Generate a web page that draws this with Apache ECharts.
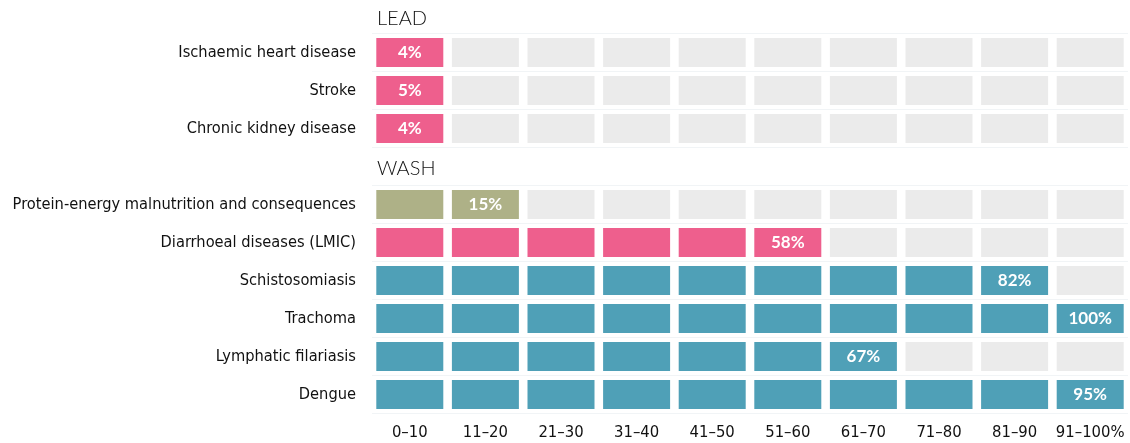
<!DOCTYPE html>
<html>
<head>
<meta charset="utf-8">
<script src="https://cdn.jsdelivr.net/npm/echarts@6/dist/echarts.min.js"></script>
<style>
  html, body { margin: 0; padding: 0; background: #fff; }
  #chart { width: 1130px; height: 443px; }
</style>
</head>
<body>
<div id="chart"></div>
<script>
  // column bands along the bottom
  var bands = ['0\u201310', '11\u201320', '21\u201330', '31\u201340', '41\u201350',
    '51\u201360', '61\u201370', '71\u201380', '81\u201390', '91\u2013100%'];

  // rows top to bottom, '' is the gap under which the WASH header sits
  var diseases = ['Ischaemic heart disease', 'Stroke', 'Chronic kidney disease', '',
    'Protein-energy malnutrition and consequences', 'Diarrhoeal diseases (LMIC)',
    'Schistosomiasis', 'Trachoma', 'Lymphatic filariasis', 'Dengue'];

  // share of burden attributable (%), null for the gap row
  var shares = [4, 5, 4, null, 15, 58, 82, 100, 67, 95];

  var groups = ['LEAD', 'WASH'];

  // fill colour per row
  var palette = { pink: '#ee5f8d', olive: '#aeb187', teal: '#4fa0b7', empty: '#ebebeb' };
  var rowColour = ['pink', 'pink', 'pink', null, 'olive', 'pink', 'teal', 'teal', 'teal', 'teal'];

  var labelFont = "'Liberation Sans Narrow', 'DejaVu Sans Condensed', sans-serif";

  function lastBand(v) {
    return Math.max(0, Math.ceil(v / 10) - 1);
  }

  var cells = [];
  shares.forEach(function (v, row) {
    if (v == null) return;
    var last = lastBand(v);
    bands.forEach(function (b, col) {
      cells.push({
        value: [col, row, col <= last ? 1 : 0, col === last ? v + '%' : ''],
        colour: col <= last ? palette[rowColour[row]] : palette.empty
      });
    });
  });

  var chart = echarts.init(document.getElementById('chart'));

  chart.setOption({
    animation: false,
    grid: { left: 372, right: 2, top: 33.5, bottom: 29.5, outerBoundsMode: 'none' },
    xAxis: {
      type: 'category',
      data: bands,
      axisLine: { show: false },
      axisTick: { show: false },
      splitLine: { show: false },
      axisLabel: { color: '#111', fontFamily: labelFont, fontSize: 16.5, margin: 11, interval: 0 }
    },
    yAxis: {
      type: 'category',
      data: diseases,
      inverse: true,
      axisLine: { show: false },
      axisTick: { show: false },
      splitLine: { show: true, lineStyle: { color: '#f1f4f6', width: 1 } },
      axisLabel: { color: '#111', fontFamily: labelFont, fontSize: 16.3, margin: 16, interval: 0 }
    },
    graphic: [
      { type: 'text', left: 377, top: 9, style: { text: groups[0], font: "300 20px Lato", fill: '#111' } },
      { type: 'text', left: 377, top: 159, style: { text: groups[1], font: "300 20px Lato", fill: '#111' } }
    ],
    series: [{
      type: 'custom',
      data: cells,
      encode: { x: 0, y: 1 },
      renderItem: function (params, api) {
        var c = api.coord([api.value(0), api.value(1)]);
        var s = api.size([1, 1]);
        var w = s[0] - 8.6, h = s[1] - 9;
        var item = cells[params.dataIndex];
        return {
          type: 'rect',
          shape: { x: c[0] - w / 2, y: c[1] - h / 2, width: w, height: h },
          style: { fill: item.colour },
          textContent: {
            style: {
              text: item.value[3],
              fill: '#fff',
              font: "bold 17px Lato"
            }
          },
          textConfig: { position: 'inside' }
        };
      }
    }]
  });
</script>
</body>
</html>
